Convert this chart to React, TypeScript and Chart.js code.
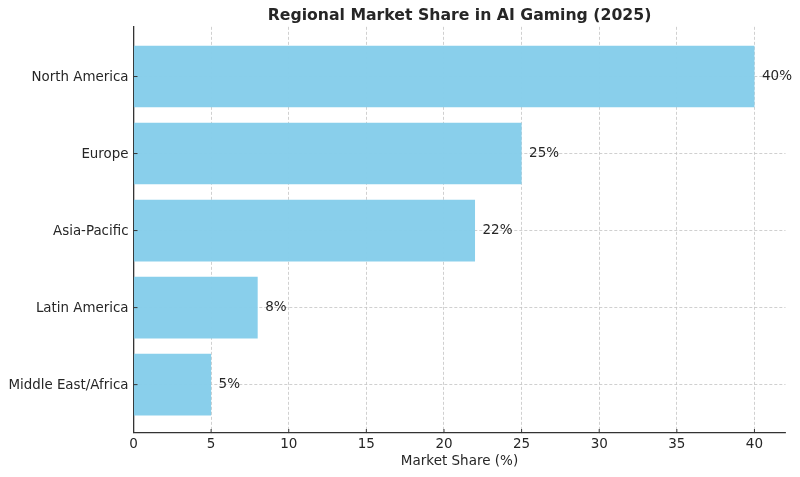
import { useEffect, useRef } from "react"
import Chart from "chart.js/auto"

const regions = ["North America", "Europe", "Asia-Pacific", "Latin America", "Middle East/Africa"]
const shares = [40, 25, 22, 8, 5]
const xTicks = [0, 5, 10, 15, 20, 25, 30, 35, 40]

const FONT = "'DejaVu Sans'"
const TEXT = "#262626"
const AXIS = "#333333"

// writes the "40%" style label next to each bar
const barLabels = {
  id: "barLabels",
  afterDatasetsDraw(chart: any) {
    const ctx = chart.ctx
    const meta = chart.getDatasetMeta(0)
    ctx.save()
    ctx.font = `13.5px ${FONT}`
    ctx.fillStyle = TEXT
    ctx.textBaseline = "middle"
    meta.data.forEach((bar: any, i: number) => {
      ctx.fillText(`${shares[i]}%`, bar.x + 7.5, bar.y - 0.5)
    })
    ctx.restore()
  },
}

// tick marks point into the plot here, chart.js only draws them outwards
const innerTicks = {
  id: "innerTicks",
  afterDatasetsDraw(chart: any) {
    const { ctx, chartArea, scales } = chart
    ctx.save()
    ctx.strokeStyle = AXIS
    ctx.lineWidth = 1
    ctx.beginPath()
    scales.x.ticks.forEach((t: any) => {
      const px = scales.x.getPixelForValue(t.value)
      ctx.moveTo(px, chartArea.bottom)
      ctx.lineTo(px, chartArea.bottom - 4)
    })
    scales.y.ticks.forEach((t: any) => {
      const py = scales.y.getPixelForValue(t.value)
      ctx.moveTo(chartArea.left, py)
      ctx.lineTo(chartArea.left + 4, py)
    })
    ctx.stroke()
    ctx.restore()
  },
}

export default function App() {
  const chartRef = useRef<HTMLCanvasElement>(null)

  useEffect(() => {
    if (!chartRef.current) return

    const chart = new Chart(chartRef.current, {
      type: "bar",
      data: {
        datasets: [
          {
            data: shares.map((share, i) => ({ x: share, y: i })),
            backgroundColor: "rgba(135, 206, 235, 0.98)",
            categoryPercentage: 1,
            barPercentage: 0.8,
          },
        ],
      },
      plugins: [barLabels, innerTicks],
      options: {
        indexAxis: "y",
        animation: false,
        responsive: false,
        devicePixelRatio: 1,
        layout: { padding: { left: 0, right: 14.5, top: 0, bottom: 0 } },
        plugins: {
          legend: { display: false },
          tooltip: { enabled: false },
          title: {
            display: true,
            fullSize: false,
            text: "Regional Market Share in AI Gaming (2025)",
            color: TEXT,
            font: { family: FONT, size: 15.7, weight: "bold" },
            padding: { top: 7, bottom: 1 },
          },
        },
        scales: {
          x: {
            type: "linear",
            bounds: "data",
            min: 0,
            max: 42,
            afterBuildTicks: (axis: any) => {
              axis.ticks = xTicks.map((value) => ({ value }))
            },
            afterFit: (axis: any) => {
              axis.height = 44
            },
            title: {
              display: true,
              text: "Market Share (%)",
              color: TEXT,
              font: { family: FONT, size: 13.5 },
              padding: { top: 3, bottom: 7 },
            },
            ticks: {
              color: TEXT,
              font: { family: FONT, size: 13.5 },
              maxRotation: 0,
              padding: 3,
            },
            grid: { color: "#c4c4c4", lineWidth: 0.8, tickLength: 0 },
            border: { color: AXIS, width: 1.3, dash: [3, 2] },
          },
          y: {
            type: "linear",
            bounds: "data",
            offset: false,
            reverse: true,
            min: -0.645,
            max: 4.628,
            afterBuildTicks: (axis: any) => {
              axis.ticks = regions.map((_, value) => ({ value }))
            },
            afterFit: (axis: any) => {
              axis.width = 133.5
            },
            ticks: {
              color: TEXT,
              font: { family: FONT, size: 13.4 },
              padding: 5,
              labelOffset: 1,
              callback: (value: any) => regions[value],
            },
            grid: { offset: false, color: "#c4c4c4", lineWidth: 0.8, tickLength: 0 },
            border: { color: AXIS, width: 1.3, dash: [3, 2] },
          },
        },
      },
    } as any)

    return () => {
      chart.destroy()
    }
  }, [])

  return <canvas ref={chartRef} width={800} height={477} style={{ position: "fixed", left: 0, top: 0 }} />
}
